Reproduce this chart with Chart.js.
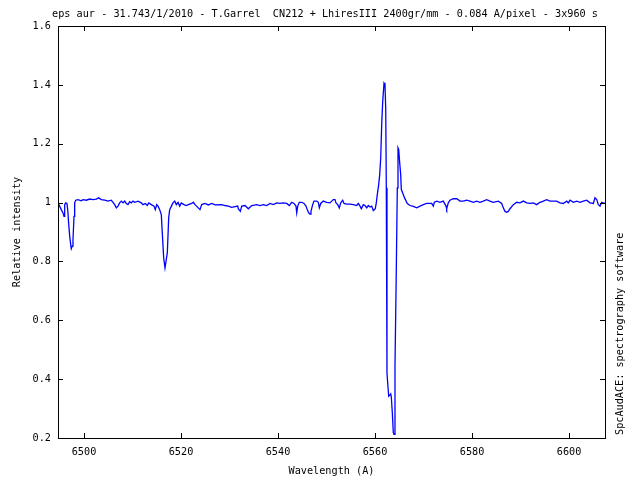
<!DOCTYPE html>
<html>
<head>
<meta charset="utf-8">
<script src="https://cdn.jsdelivr.net/npm/chart.js@4.4.1/dist/chart.umd.min.js"></script>
<style>
    html, body { margin: 0; padding: 0; background: #ffffff; }
    #spectrum { display: block; }
</style>
</head>
<body>
<canvas id="spectrum" width="640" height="480"></canvas>
<script>
// --- 데이터 ---
const chartTitle = "eps aur - 31.743/1/2010 - T.Garrel  CN212 + LhiresIII 2400gr/mm - 0.084 A/pixel - 3x960 s";
const xTitle = "Wavelength (A)";
const yTitle = "Relative intensity";
const creditText = "SpcAudACE: spectrography software";

const xTicks = [6500, 6520, 6540, 6560, 6580, 6600];
const yTicks = [0.2, 0.4, 0.6, 0.8, 1.0, 1.2, 1.4, 1.6];
const yTickLabels = ["0.2", "0.4", "0.6", "0.8", "1", "1.2", "1.4", "1.6"];

const wavelengths = [
    6494.64, 6494.99, 6495.32, 6495.67, 6495.88, 6496.02, 6496.23, 6496.49, 6496.70, 6496.80,
    6497.05, 6497.26, 6497.38, 6497.59, 6497.73, 6497.94, 6498.08, 6498.29, 6498.76, 6499.44,
    6499.79, 6500.47, 6501.18, 6501.86, 6502.54, 6503.03, 6503.57, 6504.27, 6504.95, 6505.63,
    6505.98, 6506.33, 6506.67, 6507.01, 6507.35, 6507.69, 6508.04, 6508.38, 6508.72, 6509.07,
    6509.42, 6509.75, 6510.10, 6510.45, 6511.13, 6511.81, 6512.16, 6512.64, 6513.05, 6513.34,
    6513.88, 6514.43, 6514.70, 6514.99, 6515.26, 6515.61, 6515.94, 6516.14, 6516.43, 6516.70,
    6516.91, 6517.18, 6517.46, 6517.67, 6518.00, 6518.35, 6518.70, 6519.03, 6519.38, 6519.73,
    6520.06, 6520.62, 6521.09, 6521.51, 6522.21, 6522.54, 6522.89, 6523.92, 6524.27, 6524.95,
    6525.63, 6526.33, 6527.01, 6528.39, 6529.07, 6529.75, 6530.45, 6531.69, 6531.81, 6532.23,
    6532.52, 6533.20, 6533.88, 6534.58, 6535.11, 6535.61, 6536.29, 6536.97, 6537.67, 6538.35,
    6539.03, 6539.73, 6540.41, 6541.09, 6541.79, 6542.33, 6542.82, 6543.30, 6543.71, 6543.86,
    6544.06, 6544.39, 6544.89, 6545.36, 6545.77, 6546.04, 6546.33, 6546.60, 6546.80, 6547.15,
    6547.42, 6547.98, 6548.31, 6548.52, 6548.80, 6549.34, 6550.04, 6550.72, 6551.07, 6551.40,
    6551.75, 6551.96, 6552.31, 6552.64, 6552.93, 6553.34, 6553.61, 6554.16, 6554.85, 6555.53,
    6556.23, 6556.56, 6556.91, 6557.18, 6557.59, 6557.94, 6558.29, 6558.62, 6558.97, 6559.32,
    6559.65, 6560.06, 6560.27, 6560.47, 6560.76, 6560.97, 6561.18, 6561.38, 6561.59, 6561.86,
    6562.06, 6562.21, 6562.33, 6562.47, 6562.82, 6563.03, 6563.24, 6563.36, 6563.57, 6563.77,
    6563.92, 6564.12, 6564.39, 6564.60, 6564.74, 6564.89, 6565.09, 6565.30, 6565.42, 6565.77,
    6566.12, 6566.66, 6567.22, 6567.90, 6568.60, 6569.28, 6569.96, 6570.66, 6571.69, 6572.02,
    6572.23, 6572.72, 6573.40, 6574.08, 6574.64, 6574.78, 6575.11, 6575.46, 6576.14, 6576.85,
    6577.53, 6578.21, 6578.91, 6579.59, 6580.27, 6580.97, 6581.65, 6582.33, 6583.03, 6583.71,
    6584.39, 6585.42, 6586.12, 6586.45, 6586.80, 6587.15, 6587.48, 6587.84, 6588.52, 6589.22,
    6589.90, 6590.58, 6591.28, 6591.96, 6592.64, 6593.34, 6594.02, 6594.70, 6595.40, 6596.08,
    6596.76, 6597.46, 6598.14, 6598.82, 6599.53, 6599.86, 6600.21, 6600.89, 6601.59, 6602.27,
    6602.95, 6603.65, 6604.33, 6605.01, 6605.36, 6605.71, 6606.04, 6606.39, 6606.74, 6607.22,
    6607.63
];

const intensities = [
    0.999, 0.987, 0.976, 0.965, 0.953, 0.993, 0.999, 0.997, 0.965, 0.937,
    0.886, 0.857, 0.843, 0.852, 0.874, 0.953, 0.999, 1.008, 1.010, 1.006,
    1.010, 1.008, 1.012, 1.010, 1.012, 1.016, 1.010, 1.008, 1.005, 1.008,
    1.001, 0.993, 0.982, 0.988, 0.999, 1.005, 0.999, 1.005, 0.997, 0.993,
    1.003, 0.999, 1.005, 1.001, 1.005, 0.999, 0.993, 0.997, 0.990, 0.999,
    0.993, 0.988, 0.976, 0.993, 0.988, 0.976, 0.959, 0.897, 0.812, 0.778,
    0.800, 0.830, 0.948, 0.976, 0.987, 0.999, 1.005, 0.993, 1.001, 0.988,
    0.999, 0.993, 0.990, 0.993, 0.997, 1.001, 0.993, 0.976, 0.993, 0.997,
    0.992, 0.997, 0.992, 0.993, 0.990, 0.988, 0.984, 0.988, 0.979, 0.970,
    0.988, 0.990, 0.979, 0.990, 0.991, 0.993, 0.990, 0.993, 0.990, 0.997,
    0.993, 0.999, 0.997, 0.999, 0.997, 0.990, 1.001, 0.997, 0.988, 0.965,
    0.988, 1.001, 1.001, 0.997, 0.988, 0.976, 0.965, 0.961, 0.970, 0.993,
    1.005, 1.005, 1.001, 0.982, 0.997, 1.005, 1.001, 0.999, 1.005, 1.010,
    1.010, 0.999, 0.993, 0.982, 0.999, 1.008, 0.997, 0.995, 0.995, 0.993,
    0.990, 0.997, 0.988, 0.979, 0.993, 0.990, 0.982, 0.990, 0.985, 0.988,
    0.973, 0.979, 1.000, 1.027, 1.061, 1.095, 1.152, 1.265, 1.344, 1.406,
    1.400, 1.320, 1.050, 0.420, 0.342, 0.345, 0.350, 0.340, 0.286, 0.218,
    0.212, 0.444, 0.772, 1.050, 1.186, 1.180, 1.135, 1.095, 1.045, 1.030,
    1.015, 0.997, 0.990, 0.987, 0.982, 0.988, 0.993, 0.997, 0.997, 0.988,
    1.001, 1.005, 1.001, 1.005, 0.988, 0.979, 0.999, 1.008, 1.013, 1.013,
    1.005, 1.005, 1.008, 1.005, 1.001, 1.005, 1.001, 1.005, 1.010, 1.005,
    1.001, 1.005, 0.997, 0.982, 0.970, 0.967, 0.970, 0.979, 0.993, 1.001,
    0.999, 1.005, 0.999, 0.997, 0.999, 0.993, 1.001, 1.005, 1.010, 1.005,
    1.005, 1.005, 0.999, 0.997, 1.005, 0.999, 1.008, 1.001, 1.005, 1.001,
    1.005, 1.008, 0.999, 0.997, 1.016, 1.010, 0.993, 0.988, 1.001, 0.997,
    0.999
];

// --- 스타일 ---
const FONT = "'DejaVu Sans Mono', 'Liberation Mono', monospace";
const FONT_SIZE = 10.2;
const TICK_LEN = 5;

// gnuplot 스타일: 프레임 + 안쪽으로 향하는 눈금 + 텍스트
const gnuplotFrame = {
    id: 'gnuplotFrame',
    afterDraw(chart) {
        const ctx = chart.ctx;
        const a = chart.chartArea;
        const xs = chart.scales.x;
        const ys = chart.scales.y;

        ctx.save();
        ctx.strokeStyle = '#000000';
        ctx.lineWidth = 1;
        ctx.strokeRect(Math.round(a.left) + 0.5, Math.round(a.top) + 0.5,
                       Math.round(a.right - a.left), Math.round(a.bottom - a.top));

        ctx.beginPath();
        xTicks.forEach(v => {
            const px = Math.round(xs.getPixelForValue(v)) + 0.5;
            ctx.moveTo(px, a.bottom);
            ctx.lineTo(px, a.bottom - TICK_LEN);
            ctx.moveTo(px, a.top);
            ctx.lineTo(px, a.top + TICK_LEN);
        });
        yTicks.forEach(v => {
            const py = Math.round(ys.getPixelForValue(v)) + 0.5;
            ctx.moveTo(a.left, py);
            ctx.lineTo(a.left + TICK_LEN, py);
            ctx.moveTo(a.right, py);
            ctx.lineTo(a.right - TICK_LEN, py);
        });
        ctx.stroke();

        ctx.fillStyle = '#000000';
        ctx.font = FONT_SIZE + 'px ' + FONT;
        ctx.textAlign = 'center';
        ctx.textBaseline = 'middle';
        ctx.fillText(chartTitle, 325, 14);
        ctx.fillText(xTitle, (a.left + a.right) / 2, 471);

        // 세로 텍스트
        ctx.save();
        ctx.translate(17, (a.top + a.bottom) / 2);
        ctx.rotate(-Math.PI / 2);
        ctx.fillText(yTitle, 0, 0);
        ctx.restore();

        ctx.save();
        ctx.translate(620, a.bottom);
        ctx.rotate(-Math.PI / 2);
        ctx.textAlign = 'left';
        ctx.fillText(creditText, 3, 0);
        ctx.restore();

        ctx.restore();
    }
};

// --- 차트 렌더링 ---
const ctx = document.getElementById('spectrum').getContext('2d');
new Chart(ctx, {
    type: 'line',
    data: {
        datasets: [{
            data: wavelengths.map((w, i) => ({ x: w, y: intensities[i] })),
            borderColor: '#0000ff',
            borderWidth: 1.3,
            pointRadius: 0,
            tension: 0,
            fill: false
        }]
    },
    options: {
        responsive: false,
        animation: false,
        events: [],
        layout: { padding: { top: 26, right: 35, left: 0, bottom: 0 } },
        plugins: {
            legend: { display: false },
            tooltip: { enabled: false }
        },
        scales: {
            x: {
                type: 'linear',
                min: 6494.64,
                max: 6607.42,
                afterBuildTicks: (scale) => { scale.ticks = xTicks.map(v => ({ value: v })); },
                afterFit: (scale) => { scale.height = 42; },
                grid: { display: false, drawTicks: false },
                border: { display: false },
                ticks: {
                    padding: 8,
                    maxRotation: 0,
                    autoSkip: false,
                    color: '#000000',
                    font: { family: FONT, size: FONT_SIZE },
                    callback: (value) => String(value)
                }
            },
            y: {
                type: 'linear',
                min: 0.2,
                max: 1.6,
                afterBuildTicks: (scale) => { scale.ticks = yTicks.map(v => ({ value: v })); },
                afterFit: (scale) => { scale.width = 58; },
                grid: { display: false, drawTicks: false },
                border: { display: false },
                ticks: {
                    padding: 7,
                    autoSkip: false,
                    color: '#000000',
                    font: { family: FONT, size: FONT_SIZE },
                    callback: (value, index) => yTickLabels[index]
                }
            }
        }
    },
    plugins: [gnuplotFrame]
});
</script>
</body>
</html>
